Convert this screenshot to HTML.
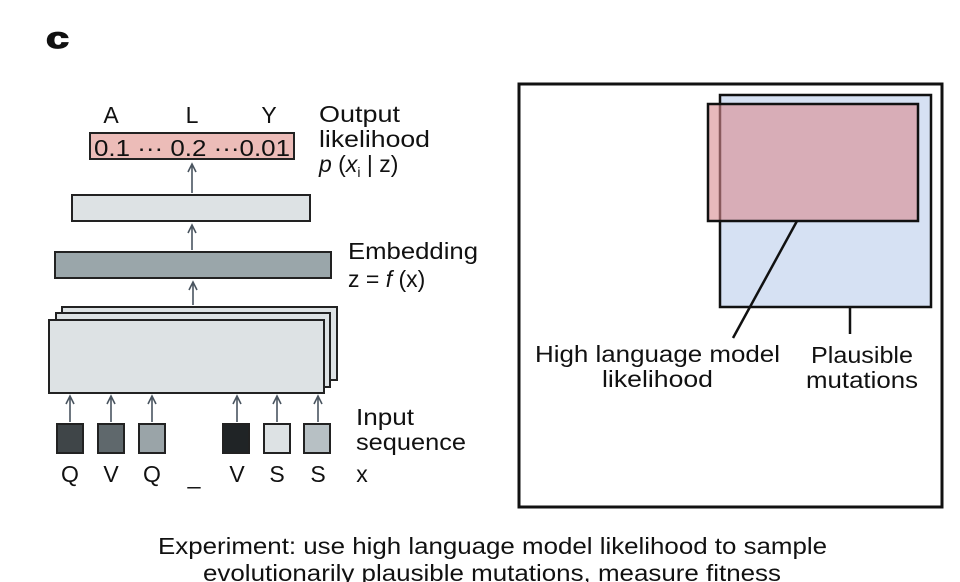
<!DOCTYPE html>
<html><head><meta charset="utf-8"><style>
html,body{margin:0;padding:0;background:#fff;}
svg{display:block;}
text{font-family:"Liberation Sans",sans-serif;fill:#111;}
</style></head><body>
<svg width="960" height="582" viewBox="0 0 960 582" xmlns="http://www.w3.org/2000/svg">
<text x="46" y="48" font-size="30" font-weight="bold" textLength="23" lengthAdjust="spacingAndGlyphs" stroke="#111" stroke-width="1.2">c</text>

<!-- output -->
<text x="111" y="123" font-size="23" text-anchor="middle">A</text>
<text x="192" y="123" font-size="23" text-anchor="middle">L</text>
<text x="269" y="123" font-size="23" text-anchor="middle">Y</text>
<rect x="90" y="133" width="204" height="26" fill="#ecbcb8" stroke="#222" stroke-width="2"/>
<text x="94" y="156" font-size="23" textLength="196" lengthAdjust="spacingAndGlyphs">0.1 ··· 0.2 ···0.01</text>
<text x="319" y="122" font-size="23" textLength="81" lengthAdjust="spacingAndGlyphs">Output</text>
<text x="319" y="147" font-size="23" textLength="111" lengthAdjust="spacingAndGlyphs">likelihood</text>
<text x="319" y="172" font-size="23"><tspan font-style="italic">p</tspan> (<tspan font-style="italic">x</tspan><tspan font-size="14" dy="5">i</tspan><tspan dy="-5"> | z)</tspan></text>

<g stroke="#4a5560" stroke-width="1.6" fill="none">
<path d="M192,193 V165 M188,172 L192,164 L196,172"/>
<path d="M192,250 V226 M188,233 L192,225 L196,233"/>
<path d="M193,305 V283 M189,290 L193,282 L197,290"/>
</g>
<rect x="72" y="195" width="238" height="26" fill="#dde2e4" stroke="#222" stroke-width="2"/>
<rect x="55" y="252" width="276" height="26" fill="#9aa6aa" stroke="#222" stroke-width="2"/>
<text x="348" y="259" font-size="23" textLength="130" lengthAdjust="spacingAndGlyphs">Embedding</text>
<text x="348" y="287" font-size="23">z = <tspan font-style="italic">f</tspan> (x)</text>

<rect x="62" y="307" width="275" height="73" fill="#dde2e4" stroke="#222" stroke-width="2"/>
<rect x="56" y="313" width="274" height="74" fill="#dde2e4" stroke="#222" stroke-width="2"/>
<rect x="49" y="320" width="275" height="73" fill="#dde2e4" stroke="#222" stroke-width="2"/>

<g stroke="#4a5560" stroke-width="1.6" fill="none">
<path d="M70,422 V397 M66,404 L70,396 L74,404"/>
<path d="M111,422 V397 M107,404 L111,396 L115,404"/>
<path d="M152,422 V397 M148,404 L152,396 L156,404"/>
<path d="M237,422 V397 M233,404 L237,396 L241,404"/>
<path d="M277,422 V397 M273,404 L277,396 L281,404"/>
<path d="M318,422 V397 M314,404 L318,396 L322,404"/>
</g>
<g stroke="#222" stroke-width="2">
<rect x="57" y="424" width="26" height="29" fill="#3f4548"/>
<rect x="98" y="424" width="26" height="29" fill="#5f686c"/>
<rect x="139" y="424" width="26" height="29" fill="#9aa4a8"/>
<rect x="223" y="424" width="26" height="29" fill="#202426"/>
<rect x="264" y="424" width="26" height="29" fill="#dde2e4"/>
<rect x="304" y="424" width="26" height="29" fill="#b7c0c4"/>
</g>
<text x="356" y="425" font-size="23" textLength="58" lengthAdjust="spacingAndGlyphs">Input</text>
<text x="356" y="450" font-size="23" textLength="110" lengthAdjust="spacingAndGlyphs">sequence</text>
<g font-size="23" text-anchor="middle">
<text x="70" y="482">Q</text><text x="111" y="482">V</text><text x="152" y="482">Q</text>
<text x="194" y="484">_</text>
<text x="237" y="482">V</text><text x="277" y="482">S</text><text x="318" y="482">S</text>
<text x="362" y="482">x</text>
</g>

<!-- right panel -->
<rect x="519" y="84" width="423" height="423" fill="none" stroke="#111" stroke-width="3"/>
<rect x="720" y="95" width="211" height="212" fill="#d6e1f3" stroke="#111" stroke-width="2.5"/>
<rect x="708" y="104" width="210" height="117" fill="#d98a90" fill-opacity="0.6" stroke="#111" stroke-width="2.5"/>
<line x1="797" y1="221" x2="733" y2="338" stroke="#111" stroke-width="2.5"/>
<line x1="850" y1="307" x2="850" y2="334" stroke="#111" stroke-width="2.5"/>
<text x="535" y="362" font-size="23" textLength="245" lengthAdjust="spacingAndGlyphs">High language model</text>
<text x="602" y="387" font-size="23" textLength="111" lengthAdjust="spacingAndGlyphs">likelihood</text>
<text x="811" y="363" font-size="23" textLength="102" lengthAdjust="spacingAndGlyphs">Plausible</text>
<text x="806" y="388" font-size="23" textLength="112" lengthAdjust="spacingAndGlyphs">mutations</text>

<text x="158" y="554" font-size="23" textLength="669" lengthAdjust="spacingAndGlyphs">Experiment: use high language model likelihood to sample</text>
<text x="203" y="581" font-size="23" textLength="578" lengthAdjust="spacingAndGlyphs">evolutionarily plausible mutations, measure fitness</text>
</svg>
</body></html>
